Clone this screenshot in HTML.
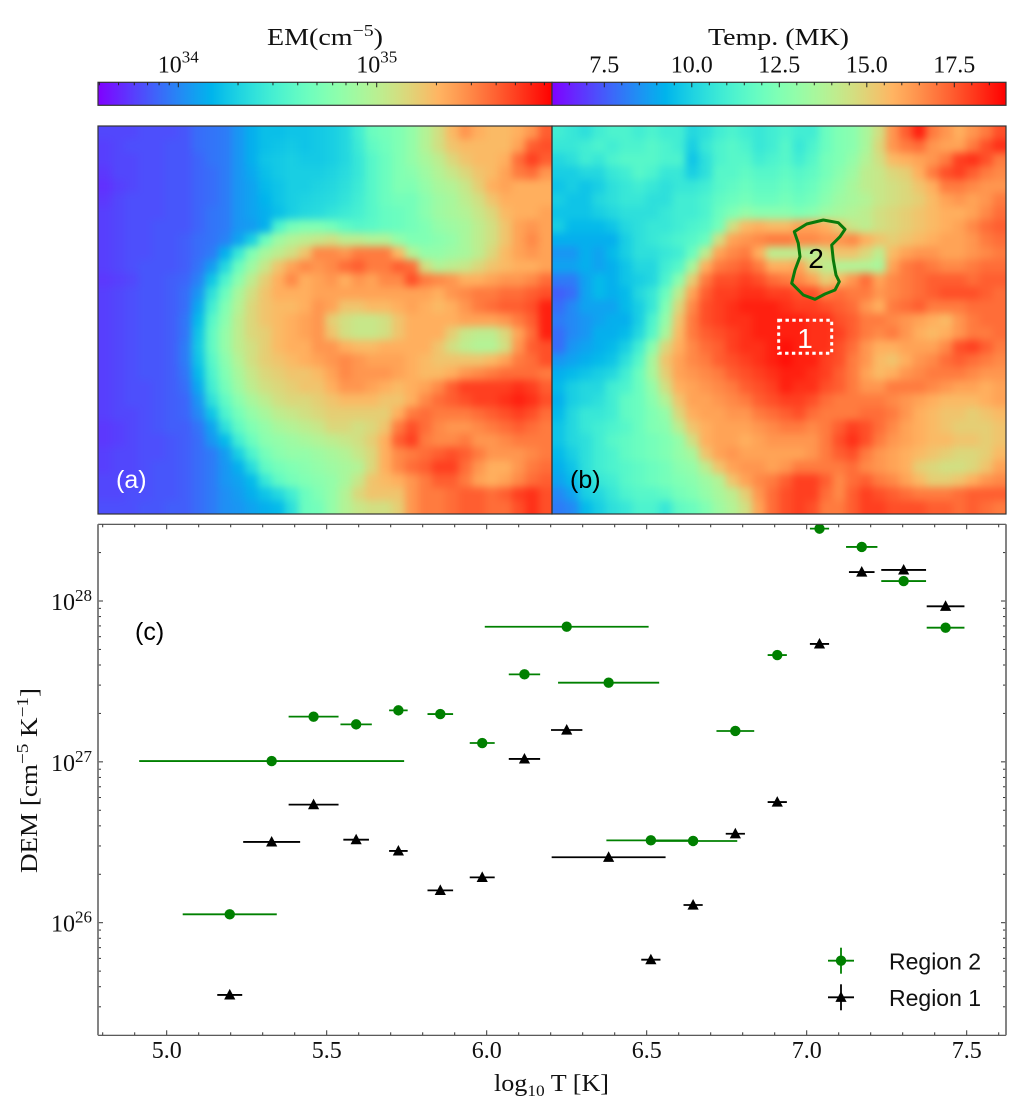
<!DOCTYPE html>
<html lang="en">
<head>
<meta charset="utf-8">
<title>EM and temperature maps with DEM plot</title>
<style>
html,body{margin:0;padding:0;background:#fff;width:1023px;height:1106px;overflow:hidden}
svg{display:block}
.serif{font-family:"Liberation Serif",serif;fill:#111}
.sans{font-family:"Liberation Sans",sans-serif}
</style>
</head>
<body>
<svg id="figure" xmlns="http://www.w3.org/2000/svg" width="1023" height="1106" viewBox="0 0 1023 1106">
<defs>
<linearGradient id="rainbow-grad" x1="0" x2="1" y1="0" y2="0"></linearGradient>
<filter id="soften" filterUnits="userSpaceOnUse" x="40" y="70" width="1023" height="500" color-interpolation-filters="sRGB"><feGaussianBlur stdDeviation="4"/></filter>
<clipPath id="clip-a"><rect x="98" y="126" width="454" height="388"/></clipPath>
<clipPath id="clip-b"><rect x="552" y="126" width="454" height="388"/></clipPath>
<clipPath id="clip-c"><rect x="98" y="524.3" width="908" height="511"/></clipPath>
</defs>
<g id="em-colorbar"></g>
<g id="temp-colorbar"></g>
<text class="serif" x="267" y="45" font-size="24" textLength="116" lengthAdjust="spacingAndGlyphs">EM(cm<tspan dy="-9" font-size="17">−5</tspan><tspan dy="9">)</tspan></text>
<text class="serif" x="708" y="45" font-size="24" textLength="141" lengthAdjust="spacingAndGlyphs">Temp. (MK)</text>
<g clip-path="url(#clip-a)"><g id="em-map" filter="url(#soften)"></g></g>
<g clip-path="url(#clip-b)"><g id="temp-map" filter="url(#soften)"></g></g>
<rect x="98" y="126" width="454" height="388" fill="none" stroke="#333" stroke-width="1.2"/>
<rect x="552" y="126" width="454" height="388" fill="none" stroke="#333" stroke-width="1.2"/>
<text class="sans" x="116" y="488" font-size="25" fill="#fff">(a)</text>
<text class="sans" x="570" y="488" font-size="25" fill="#000">(b)</text>
<polygon fill="none" stroke="#0a7a0a" stroke-width="3" stroke-linejoin="round" points="794.3,231.7 806.7,224 823.3,220 838.3,222.7 845,229.3 840,236.7 831.7,245 833.3,260 836,275 839.3,281.7 835,290 825,294 815,299.3 803.3,295 791.7,283.3 795,270 800,256.7 798.3,243.3"/>
<rect x="778.7" y="320.3" width="53" height="33" fill="none" stroke="#fff" stroke-width="3" stroke-dasharray="3.4 3.4"/>
<text class="sans" x="816" y="268" font-size="28" text-anchor="middle" fill="#000">2</text>
<text class="sans" x="805" y="348" font-size="28" text-anchor="middle" fill="#fff">1</text>
<g id="dem-plot">
<rect x="98" y="524.3" width="908" height="511" fill="#fff"/>
<g id="dem-ticks"></g>
<g id="dem-marks" clip-path="url(#clip-c)"></g>
<path d="M98 524.3H1006M98 1035.3H1006" stroke="#444" stroke-width="1.2" fill="none"/>
<path d="M98 524.3V1035.3M1006 524.3V1035.3" stroke="#777" stroke-width="1.8" fill="none"/>
<text class="sans" x="135" y="640" font-size="25" fill="#000">(c)</text>
<text class="serif" x="494" y="1091" font-size="24" textLength="115" lengthAdjust="spacingAndGlyphs">log<tspan dy="5" font-size="16">10</tspan><tspan dy="-5"> T [K]</tspan></text>
<text class="serif" transform="translate(37,873) rotate(-90)" font-size="24" textLength="185" lengthAdjust="spacingAndGlyphs">DEM [cm<tspan dy="-9" font-size="17">−5</tspan><tspan dy="9"> K</tspan><tspan dy="-9" font-size="17">−1</tspan><tspan dy="9">]</tspan></text>
<g id="dem-legend"></g>
</g>
</svg>
<script>
// ---- DEM chart data ----
const logTemperature = [5.197,5.328,5.459,5.592,5.724,5.855,5.986,6.118,6.25,6.381,6.513,6.645,6.777,6.908,7.04,7.172,7.303,7.434];
const region2LogDem = [26.052,27.005,27.281,27.233,27.32,27.297,27.117,27.544,27.84,27.492,26.512,26.508,27.192,27.664,28.45,28.336,28.124,27.834];
const region2TempErr = [0.147,0.414,0.078,0.049,0.029,0.04,0.039,0.049,0.256,0.158,0.139,0.138,0.059,0.03,0.03,0.049,0.07,0.059];
const region1LogDem = [25.551,26.502,26.734,26.516,26.446,26.201,26.282,27.018,27.198,26.407,25.77,26.11,26.553,26.75,27.733,28.18,28.193,27.967];
const region1TempErr = [0.039,0.089,0.078,0.04,0.029,0.04,0.039,0.049,0.049,0.178,0.03,0.03,0.03,0.03,0.03,0.04,0.07,0.059];
const xTickValues = [5,5.5,6,6.5,7,7.5];
const yDecades = [26,27,28];
const emTickDecades = [34,35];
const tempTickValues = [7.5,10,12.5,15,17.5];
// ---- Heatmap data: percent position on each colour scale, rows top to bottom ----
const emLevels = [
[9,9,9,10,10,10,11,14,15,16,20,24,27,27,28,28,29,30,32,38,46,48,50,54,60,66,74,80,76,74,74,76,80,88],
[8,9,10,10,10,11,11,14,15,16,20,24,27,28,29,28,29,30,32,37,44,47,50,54,60,66,72,74,74,74,74,78,88,90],
[8,9,9,10,10,11,11,13,15,16,20,24,28,29,30,29,29,30,32,36,42,46,50,54,58,62,68,72,74,74,76,86,92,88],
[7,9,9,10,10,11,11,13,14,16,20,23,27,29,30,30,30,31,33,36,42,46,50,52,56,60,64,68,72,74,78,84,86,80],
[6,8,9,10,10,11,11,13,14,16,20,22,26,28,30,30,31,32,34,37,42,46,50,50,54,58,60,64,70,76,78,76,76,76],
[7,9,10,10,10,11,11,13,14,16,20,22,25,28,30,31,32,33,35,38,42,46,48,48,52,56,58,62,66,72,76,76,76,76],
[8,9,10,10,10,11,11,13,15,16,20,22,24,27,30,32,33,35,37,39,42,45,46,48,52,56,58,60,64,68,74,76,76,78],
[8,9,10,10,11,11,11,13,15,16,20,21,24,40,48,50,50,48,44,42,43,45,46,48,50,54,56,58,62,66,72,78,80,78],
[8,9,10,10,11,11,12,14,15,17,22,30,46,56,60,62,64,66,62,62,60,60,54,50,50,52,54,58,62,66,72,78,82,78],
[8,9,10,10,11,11,12,14,16,24,36,50,58,62,66,72,82,82,80,84,84,84,74,60,54,54,56,58,62,68,74,78,80,78],
[8,9,10,11,11,11,12,15,21,32,46,56,64,72,78,82,80,82,86,88,84,84,88,86,66,60,62,64,68,72,74,76,76,78],
[7,8,9,11,11,12,13,17,28,40,52,62,70,76,82,76,78,80,76,80,78,82,82,90,84,82,80,76,76,78,80,80,82,86],
[8,9,10,11,11,12,14,20,34,46,58,66,72,76,76,76,78,78,78,78,78,78,78,78,78,76,80,82,84,84,86,86,88,90],
[8,9,10,11,11,12,14,23,38,50,60,68,72,74,74,76,80,78,72,72,74,74,76,78,76,74,76,80,84,86,88,88,90,96],
[8,9,10,11,11,12,15,26,42,52,62,68,72,74,76,78,80,70,66,64,64,66,72,76,76,76,76,78,78,78,80,84,88,96],
[8,9,10,11,11,12,15,28,44,54,62,68,70,74,76,78,80,72,66,64,64,66,72,76,76,76,70,64,62,62,68,78,86,96],
[8,9,10,11,11,12,16,29,44,54,62,66,70,74,76,76,80,80,76,74,74,76,76,76,76,72,66,62,60,60,66,80,88,90],
[8,9,10,11,11,12,16,28,42,52,60,66,70,72,74,76,78,80,82,80,78,78,78,76,74,72,72,72,72,74,78,84,86,90],
[8,9,10,11,11,12,15,26,40,50,58,64,68,70,72,72,74,78,82,80,80,80,78,76,74,74,76,80,82,84,86,86,86,84],
[8,9,10,10,11,12,14,23,38,48,56,62,66,68,70,72,72,76,80,80,78,76,74,76,78,82,88,92,92,92,92,94,92,88],
[8,9,10,10,11,12,13,20,34,44,52,58,62,66,68,68,70,72,74,74,74,72,72,76,82,86,88,90,92,92,94,96,94,90],
[8,9,9,10,11,12,13,18,28,40,48,54,58,62,64,66,68,70,70,70,70,70,76,84,86,84,84,84,86,88,90,92,90,86],
[7,8,9,10,11,12,12,15,22,34,44,50,54,58,60,62,64,68,68,66,68,72,84,90,86,82,80,80,82,84,86,88,86,84],
[7,8,9,10,10,11,12,14,20,26,38,46,52,54,56,58,60,62,64,66,70,76,88,92,84,82,82,84,80,80,82,84,84,84],
[8,9,9,10,10,11,12,14,16,21,30,40,48,52,54,54,56,58,60,64,68,76,82,84,86,88,90,88,84,80,80,80,82,84],
[8,9,9,10,11,11,12,14,16,20,24,33,44,48,50,52,54,56,58,60,68,76,82,86,88,92,92,86,80,76,76,80,84,86],
[9,9,9,10,11,11,12,14,16,20,22,26,36,44,48,50,52,54,58,64,72,74,76,80,84,88,88,84,78,76,78,82,86,88],
[9,9,10,10,11,11,12,14,16,19,21,24,28,32,38,46,50,54,60,68,72,72,72,80,84,84,86,88,88,86,88,92,94,90],
[10,10,10,11,11,12,12,14,16,19,20,22,24,26,34,46,48,54,60,64,66,66,70,80,84,84,86,88,88,86,86,90,94,90]
];
const tempLevels = [
[38,36,34,38,40,40,38,40,38,38,32,34,38,40,38,36,38,40,38,38,46,50,52,58,66,80,88,96,84,80,76,80,84,90],
[36,36,38,40,38,40,40,42,40,38,30,36,40,42,40,36,38,42,36,40,46,50,52,58,68,80,84,86,80,78,78,84,90,94],
[32,34,38,36,40,42,42,42,40,40,28,34,40,42,42,38,40,42,38,42,48,50,54,60,66,74,76,78,80,84,92,94,90,84],
[30,30,32,32,36,38,42,40,36,36,30,34,42,42,44,42,42,44,42,44,48,52,56,62,64,68,70,76,84,90,92,88,84,82],
[28,30,28,30,34,36,38,36,34,36,36,38,42,44,46,44,44,46,44,46,50,54,58,62,64,66,68,72,76,84,84,82,80,80],
[30,28,28,32,34,36,36,34,34,38,38,40,44,46,48,46,46,48,46,48,52,56,58,60,64,66,68,70,74,78,80,78,80,84],
[28,28,28,30,32,34,34,34,36,38,38,40,46,50,54,52,52,52,50,52,56,58,60,62,66,68,70,72,74,76,76,78,82,86],
[30,26,26,26,28,32,34,36,36,38,40,42,48,66,74,76,74,74,78,78,76,70,64,62,66,68,70,72,74,76,78,82,86,88],
[24,24,24,24,24,30,34,36,38,40,42,46,66,78,80,82,84,84,82,82,80,80,82,76,72,70,72,74,76,78,78,80,84,86],
[20,20,24,22,26,30,34,34,36,38,46,62,78,82,84,76,62,62,62,60,66,72,72,68,62,74,78,80,80,78,78,80,82,84],
[22,22,24,22,24,28,32,32,38,42,58,76,84,86,88,84,76,76,78,68,62,60,60,60,58,78,84,86,84,82,82,84,86,86],
[16,16,22,26,24,28,30,32,40,52,70,84,90,90,92,90,86,84,82,78,70,74,80,86,78,82,84,86,88,88,88,86,88,88],
[12,14,22,26,24,26,32,36,46,62,78,88,92,92,94,94,92,92,90,90,84,86,84,84,80,82,84,86,88,90,90,90,88,86],
[14,18,22,22,22,26,30,36,50,68,82,90,92,94,96,96,96,94,92,92,90,88,86,80,76,84,86,88,84,84,84,86,86,86],
[16,18,20,22,24,24,30,40,54,72,84,90,92,94,94,96,96,96,96,94,94,90,88,84,84,82,80,78,76,74,80,84,86,86],
[14,18,20,24,24,26,32,42,58,74,84,88,90,92,94,96,96,96,96,94,94,92,88,84,82,84,80,76,74,76,80,84,84,86],
[14,20,22,24,26,30,38,52,68,76,82,86,88,92,94,94,96,98,96,94,94,90,86,80,76,76,78,78,78,82,90,92,88,84],
[20,22,24,26,28,34,42,58,72,78,82,84,88,90,92,94,96,98,96,96,92,90,84,80,74,72,76,80,82,86,88,86,84,82],
[24,26,28,30,32,38,46,58,70,78,80,82,84,88,90,92,94,96,96,94,92,88,84,78,74,76,80,82,84,84,84,82,80,80],
[26,30,32,32,38,40,46,54,66,76,78,80,82,84,88,90,92,96,94,94,90,88,84,80,80,84,84,84,82,80,78,78,76,78],
[24,30,32,34,38,44,46,52,60,72,78,78,80,82,84,88,90,92,92,90,86,84,84,84,84,82,80,78,76,74,74,74,76,78],
[26,32,36,36,38,44,46,50,54,68,76,78,78,80,80,84,86,88,90,86,84,84,84,86,86,84,80,76,74,72,72,70,72,74],
[28,32,36,38,40,42,46,50,52,62,72,76,78,78,78,80,82,84,84,82,84,88,92,90,86,82,78,76,74,72,70,70,70,72],
[28,32,34,38,42,44,46,48,50,54,66,76,78,78,76,78,80,80,80,80,84,90,94,90,84,80,78,76,74,74,72,72,70,72],
[26,30,34,38,40,44,46,48,50,54,58,72,78,80,78,78,78,78,78,80,84,88,90,84,80,78,76,74,72,70,68,68,70,74],
[24,28,34,38,40,42,44,46,48,52,54,62,72,78,80,80,78,80,84,84,84,84,86,82,80,78,76,70,68,66,66,68,72,78],
[22,26,32,36,38,42,44,46,48,50,52,56,60,72,78,82,84,88,92,92,88,82,86,88,84,82,78,74,70,70,72,76,80,82],
[18,22,30,32,36,40,42,42,44,48,50,54,58,62,70,80,86,90,92,92,86,82,88,92,90,88,86,84,84,84,86,88,88,88],
[16,18,26,30,34,36,40,40,36,44,46,50,56,60,66,78,86,90,92,90,84,84,88,92,92,90,90,90,88,88,86,88,86,84]
];

const NS = 'http://www.w3.org/2000/svg';
function make(tag, attrs, parent) {
  const el = document.createElementNS(NS, tag);
  for (const k in attrs) el.setAttribute(k, attrs[k]);
  parent.appendChild(el);
  return el;
}
function rainbow(f) {
  const t = Math.max(0, Math.min(1, f));
  const r = Math.abs(2 * t - 0.5), g = Math.sin(Math.PI * t), b = Math.cos(Math.PI * t / 2);
  return 'rgb(' + Math.round(Math.min(1, r) * 255) + ',' + Math.round(g * 255) + ',' + Math.round(b * 255) + ')';
}
const byId = id => document.getElementById(id);

// colour bar gradient
const grad = byId('rainbow-grad');
for (let i = 0; i <= 32; i++) {
  make('stop', {offset: (i / 32), 'stop-color': rainbow(i / 32)}, grad);
}

// axis functions
const xScale = v => 166.7 + (v - 5) * 320;
const yScale = logV => 922.7 - (logV - 26) * 160.85;
const emBarX = logV => 178.3 + (logV - 34) * 198.4;
const tempBarX = v => 604.3 + (v - 7.5) * 35;

// colour bars
function drawBar(parent, x0, name) {
  const bar = make('rect', {x: x0, y: 82.3, width: 454, height: 23, fill: 'url(#rainbow-grad)', stroke: '#333', 'stroke-width': 1.2}, parent);
  
  
}
function barTick(parent, x, len) {
  const t = make('line', {x1: x, x2: x, y1: 82.3, y2: 82.3 + len, stroke: '#222', 'stroke-width': 1}, parent);
  
  
}
const emBar = byId('em-colorbar');
drawBar(emBar, 98, 'em-colorbar-gradient');
for (let d = 33; d <= 35; d++) {
  for (let m = 1; m <= 9; m++) {
    const x = emBarX(d + Math.log10(m));
    if (x > 98.5 && x < 551.5) barTick(emBar, x, m === 1 ? 5 : 3);
  }
}
emTickDecades.forEach(d => {
  const t = make('text', {class: 'serif', x: emBarX(d), y: 72.7, 'font-size': 24, 'text-anchor': 'middle'}, emBar);
  
  
  t.textContent = '10';
  const s = make('tspan', {dy: -10, 'font-size': 17}, t);
  s.textContent = String(d);
});
const tempBar = byId('temp-colorbar');
drawBar(tempBar, 552, 'temperature-colorbar-gradient');
for (let v = 6.5; v <= 18.5; v += 0.5) {
  barTick(tempBar, tempBarX(v), (v % 2.5 === 0) ? 5 : 3);
}
tempTickValues.forEach(v => {
  const t = make('text', {class: 'serif', x: tempBarX(v), y: 72.7, 'font-size': 24, 'text-anchor': 'middle'}, tempBar);
  
  
  t.textContent = v.toFixed(1);
});

// heatmaps
function drawMap(parent, levels, x0, cellName) {
  const rows = levels.length, cols = levels[0].length;
  const cw = 454 / cols, ch = 388 / rows, pad = 24;
  levels.forEach((row, r) => {
    row.forEach((val, c) => {
      const x = x0 + c * cw - (c === 0 ? pad : 0);
      const y = 126 + r * ch - (r === 0 ? pad : 0);
      const w = cw + 0.5 + (c === 0 ? pad : 0) + (c === cols - 1 ? pad : 0);
      const h = ch + 0.5 + (r === 0 ? pad : 0) + (r === rows - 1 ? pad : 0);
      const cell = make('rect', {x: x, y: y, width: w, height: h, fill: rainbow(val / 100)}, parent);
      
      
    });
  });
}
drawMap(byId('em-map'), emLevels, 98, 'em-map-cell');
drawMap(byId('temp-map'), tempLevels, 552, 'temperature-map-cell');

// DEM ticks
const ticks = byId('dem-ticks');
function tickLine(x1, y1, x2, y2) {
  const t = make('line', {x1: x1, y1: y1, x2: x2, y2: y2, stroke: '#333', 'stroke-width': 1}, ticks);
  
  
}
for (let i = 48; i <= 76; i++) {
  const x = xScale(i / 10), len = i % 5 === 0 ? 5 : 3;
  tickLine(x, 1035.3, x, 1035.3 - len);
  tickLine(x, 524.3, x, 524.3 + len);
}
for (let d = 25; d <= 28; d++) {
  for (let m = 1; m <= 9; m++) {
    const y = yScale(d + Math.log10(m));
    if (y < 524.8 || y > 1034.8) continue;
    const len = m === 1 ? 5 : 3;
    tickLine(98, y, 98 + len, y);
    tickLine(1006, y, 1006 - len, y);
  }
}
xTickValues.forEach(v => {
  const t = make('text', {class: 'serif', x: xScale(v), y: 1058, 'font-size': 24, 'text-anchor': 'middle'}, ticks);
  
  
  t.textContent = v.toFixed(1);
});
yDecades.forEach(d => {
  const t = make('text', {class: 'serif', x: 92, y: yScale(d) + 9, 'font-size': 24, 'text-anchor': 'end'}, ticks);
  
  
  t.textContent = '10';
  const s = make('tspan', {dy: -9, 'font-size': 17}, t);
  s.textContent = String(d);
});

// DEM series
const marks = byId('dem-marks');
function triangle(parent, cx, cy, color) {
  const p = make('polygon', {points: [[cx, cy - 6], [cx + 5.6, cy + 4.6], [cx - 5.6, cy + 4.6]].map(q => q.join(',')).join(' '), fill: color}, parent);
  return p;
}
function drawSeries(name, logDem, tempErr, color, kind) {
  logDem.forEach((val, i) => {
    const cx = xScale(logTemperature[i]), cy = yScale(val);
    const bar = make('line', {x1: xScale(logTemperature[i] - tempErr[i]), x2: xScale(logTemperature[i] + tempErr[i]), y1: cy, y2: cy, stroke: color, 'stroke-width': 1.8}, marks);
    
    
    let m;
    if (kind === 'circle') {
      m = make('circle', {cx: cx, cy: cy, r: 5.2, fill: color}, marks);
    } else {
      m = triangle(marks, cx, cy, color);
    }
    
    
  });
}
drawSeries('region-2', region2LogDem, region2TempErr, '#008000', 'circle');
drawSeries('region-1', region1LogDem, region1TempErr, '#000000', 'triangle');

// legend
const legend = byId('dem-legend');
function legendEntry(label, y, color, kind, name) {
  const hline = make('line', {x1: 828, x2: 854, y1: y, y2: y, stroke: color, 'stroke-width': 1.8}, legend);
  
  
  const vline = make('line', {x1: 841, x2: 841, y1: y - 13, y2: y + 13, stroke: color, 'stroke-width': 1.8}, legend);
  
  
  const mk = kind === 'circle' ? make('circle', {cx: 841, cy: y, r: 5.2, fill: color}, legend) : triangle(legend, 841, y, color);
  
  
  const t = make('text', {class: 'sans', x: 889, y: y + 8.6, 'font-size': 23, fill: '#111'}, legend);
  
  
  t.textContent = label;
}
legendEntry('Region 2', 960.7, '#008000', 'circle', 'legend-region-2');
legendEntry('Region 1', 997.3, '#000000', 'triangle', 'legend-region-1');
</script>
</body>
</html>
